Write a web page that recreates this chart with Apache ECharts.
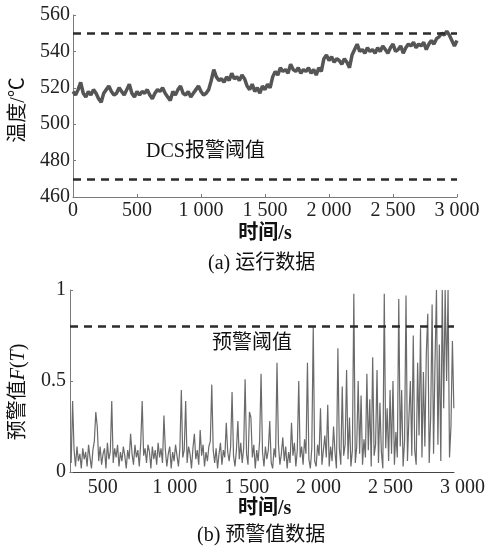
<!DOCTYPE html>
<html>
<head>
<meta charset="utf-8">
<script src="https://cdn.jsdelivr.net/npm/echarts@6/dist/echarts.min.js"></script>
<style>
html,body{margin:0;padding:0;background:#fff;}
#c{width:488px;height:554px;}
</style>
</head>
<body>
<div id="c"></div>
<script>
// ---------- DATA ----------
// (a) temperature, sampled every 20 s from 0 s to 3000 s
const tempStart = 0;
const tempStep = 20;
const temperature = [
  518,516,519,523,517,515,518,516,519,517,
  514,512,517,519,521,518,516,517,520,518,
  516,519,522,517,515,518,516,518,517,519,
  516,514,517,519,518,520,517,515,513,518,
  516,519,521,517,516,518,515,517,519,521,
  518,516,517,519,
  524,530,526,524,525,523,526,524,528,525,526,524,527,525,
  521,519,522,518,520,517,521,519,522,520,
  526,529,527,531,529,530,528,533,530,529,531,528,530,529,531,528,530,527,531,529,
  536,538,535,537,534,536,535,533,536,534,531,
  538,541,544,540,541,539,542,540,541,539,542,540,543,541,539,542,544,540,541,543,539,542,
  544,543,545,542,544,543,545,541,544,546,544,547,
  548,550,549,551,549,546,543,546
];
const alarmLimits = [550, 470];
const alarmLabel = 'DCS报警阈值';

// (b) warning value F(T), sampled every 10 s from 280 s to 2920 s
const warnStart = 280;
const warnStep = 10;
const warning = [
  0.05,0.39,0.12,0.03,0.14,0.06,0.10,0.02,0.13,0.07,
  0.11,0.03,0.15,0.08,0.02,0.12,0.17,0.33,0.25,0.06,
  0.14,0.04,0.10,0.13,0.02,0.16,0.07,0.11,0.39,0.05,
  0.13,0.08,0.15,0.03,0.11,0.06,0.14,0.09,0.02,0.12,
  0.07,0.21,0.10,0.04,0.15,0.08,0.12,0.03,0.16,0.39,
  0.09,0.13,0.05,0.15,0.11,0.02,0.14,0.07,0.12,0.04,
  0.16,0.08,0.13,0.05,0.31,0.12,0.03,0.10,0.14,0.02,
  0.11,0.06,0.15,0.09,0.03,0.13,0.45,0.08,0.12,0.39,
  0.05,0.14,0.10,0.02,0.13,0.21,0.07,0.12,0.04,0.23,
  0.09,0.15,0.03,0.11,0.06,0.14,0.17,0.48,0.12,0.05,
  0.13,0.02,0.10,0.16,0.04,0.12,0.08,0.27,0.11,0.06,
  0.14,0.44,0.09,0.03,0.12,0.28,0.07,0.16,0.05,0.13,
  0.51,0.10,0.04,0.33,0.30,0.08,0.15,0.02,0.12,0.06,
  0.17,0.54,0.11,0.03,0.14,0.07,0.12,0.28,0.05,0.02,
  0.13,0.08,0.60,0.15,0.04,0.10,0.19,0.06,0.14,0.02,
  0.11,0.05,0.27,0.09,0.16,0.03,0.12,0.50,0.08,0.14,
  0.04,0.18,0.10,0.60,0.07,0.02,0.13,0.80,0.06,0.03,
  0.15,0.09,0.35,0.04,0.12,0.20,0.08,0.37,0.03,0.14,
  0.06,0.25,0.11,0.02,0.68,0.13,0.04,0.47,0.09,0.15,
  0.56,0.07,0.30,0.03,0.12,0.98,0.05,0.14,0.50,0.10,
  0.42,0.04,0.18,0.08,0.54,0.12,0.40,0.03,0.63,0.09,
  0.15,0.56,0.05,0.38,0.11,0.02,0.98,0.13,0.35,0.06,
  0.45,0.10,0.50,0.04,0.22,0.08,0.95,0.14,0.45,0.03,
  0.17,0.97,0.06,0.30,0.50,0.09,0.75,0.12,0.04,0.60,
  0.20,0.79,0.08,0.55,0.14,0.65,0.87,0.05,0.30,0.92,
  0.10,0.60,1.00,0.15,0.70,0.06,1.00,0.35,1.00,0.50,
  1.00,0.08,0.25,0.72,0.35
];
const warnLimit = 0.8;
const warnLabel = '预警阈值';

const tempTicks = [460, 560, 20];   // min, max, interval
const warnTicks = [0, 1, 0.5];
const timeTicksTop = [0, 3000, 500];
const timeTicksBottom = [250, 3000, 250];
const warnTimeRange = [272, 2921];

const captions = ['(a) 运行数据', '(b) 预警值数据'];
const xName = '时间/s';
const yNameTop = '温度/℃';

// ---------- BUILD ----------
const tempData = temperature.map((v, i) => [tempStart + i * tempStep, v]);
const warnData = warning.map((v, i) => [warnStart + i * warnStep, v]);

const serif = '"Liberation Serif", "Times New Roman", serif';
const cjk = '"Liberation Serif", "Noto Sans CJK SC", serif';
const fmtThousands = v => String(v).replace(/\B(?=(\d{3})+(?!\d))/g, ' ');
const axisGray = '#7a7a7a';

const chart = echarts.init(document.getElementById('c'), null, {renderer: 'canvas'});
chart.setOption({
  animation: false,
  backgroundColor: '#fff',
  grid: [
    {left: 73, top: 15, width: 384, height: 182},
    {left: 70, top: 290, width: 384, height: 182},
    {left: 66.75, top: 290, width: 399.25, height: 182}
  ],
  xAxis: [
    {
      type: 'value', gridIndex: 0,
      min: timeTicksTop[0], max: timeTicksTop[1], interval: timeTicksTop[2],
      name: xName, nameLocation: 'middle', nameGap: 27,
      nameTextStyle: {fontFamily: cjk, fontSize: 20, color: '#111', fontWeight: 'bold'},
      axisLine: {lineStyle: {color: axisGray, width: 1}},
      axisTick: {inside: true, length: 3, lineStyle: {color: axisGray}},
      axisLabel: {fontFamily: serif, fontSize: 20, color: '#222', margin: 4, formatter: fmtThousands},
      splitLine: {show: false}
    },
    {
      type: 'value', gridIndex: 1,
      min: warnTimeRange[0], max: warnTimeRange[1],
      axisLine: {lineStyle: {color: '#444', width: 1}},
      axisTick: {show: false},
      axisLabel: {show: false},
      splitLine: {show: false}
    },
    {
      type: 'value', gridIndex: 2,
      min: timeTicksBottom[0], max: timeTicksBottom[1], interval: timeTicksBottom[2],
      name: xName, nameLocation: 'middle', nameGap: 27,
      nameTextStyle: {fontFamily: cjk, fontSize: 20, color: '#111', fontWeight: 'bold'},
      axisLine: {show: false},
      axisTick: {show: false},
      axisLabel: {
        fontFamily: serif, fontSize: 20, color: '#222', margin: 6,
        showMinLabel: false,
        formatter: v => (v % 500 === 0 ? fmtThousands(v) : '')
      },
      splitLine: {show: false}
    }
  ],
  yAxis: [
    {
      type: 'value', gridIndex: 0,
      min: tempTicks[0], max: tempTicks[1], interval: tempTicks[2],
      name: yNameTop, nameLocation: 'middle', nameGap: 44,
      nameTextStyle: {fontFamily: cjk, fontSize: 20, color: '#111', padding: [0, 8, 0, 0]},
      axisLine: {show: true, lineStyle: {color: axisGray, width: 1}},
      axisTick: {show: true, inside: true, length: 3, lineStyle: {color: axisGray}},
      axisLabel: {fontFamily: serif, fontSize: 20, color: '#222', margin: 3},
      splitLine: {show: false}
    },
    {
      type: 'value', gridIndex: 1,
      min: warnTicks[0], max: warnTicks[1], interval: warnTicks[2],
      name: '预警值{i|F}({i|T})', nameLocation: 'middle', nameGap: 41,
      nameTextStyle: {
        fontFamily: cjk, fontSize: 20, color: '#111', padding: [0, 22, 0, 0],
        rich: {i: {fontFamily: serif, fontStyle: 'italic', fontSize: 20, color: '#111'}}
      },
      axisLine: {show: true, lineStyle: {color: axisGray, width: 1}},
      axisTick: {show: true, inside: true, length: 3, lineStyle: {color: axisGray}},
      axisLabel: {fontFamily: serif, fontSize: 20, color: '#222', margin: 4},
      splitLine: {show: false}
    },
    {type: 'value', gridIndex: 2, min: 0, max: 1, show: false}
  ],
  series: [
    {
      type: 'line', xAxisIndex: 0, yAxisIndex: 0,
      data: tempData, showSymbol: false, symbol: 'none',
      lineStyle: {color: '#555', width: 3.5}, z: 3,
      markLine: {
        silent: true, symbol: 'none', label: {show: false},
        lineStyle: {color: '#2b2b2b', width: 2.5, type: [8, 6]},
        data: alarmLimits.map(v => ({yAxis: v}))
      }
    },
    {
      type: 'line', xAxisIndex: 1, yAxisIndex: 1,
      data: warnData, showSymbol: false, symbol: 'none',
      lineStyle: {color: '#6a6a6a', width: 1.2}, z: 3,
      markLine: {
        silent: true, symbol: 'none', label: {show: false},
        lineStyle: {color: '#2b2b2b', width: 2.5, type: [8, 6]},
        data: [{yAxis: warnLimit}]
      }
    }
  ],
  graphic: [
    {type: 'text', left: 146, top: 142, style: {text: alarmLabel, font: '20px ' + cjk, fill: '#111'}},
    {type: 'text', left: 212, top: 334, style: {text: warnLabel, font: '20px ' + cjk, fill: '#111'}},
    {type: 'text', left: 208, top: 254, style: {text: captions[0], font: '20px ' + cjk, fill: '#111'}},
    {type: 'text', left: 197, top: 526, style: {text: captions[1], font: '20px ' + cjk, fill: '#111'}}
  ]
});
</script>
</body>
</html>
